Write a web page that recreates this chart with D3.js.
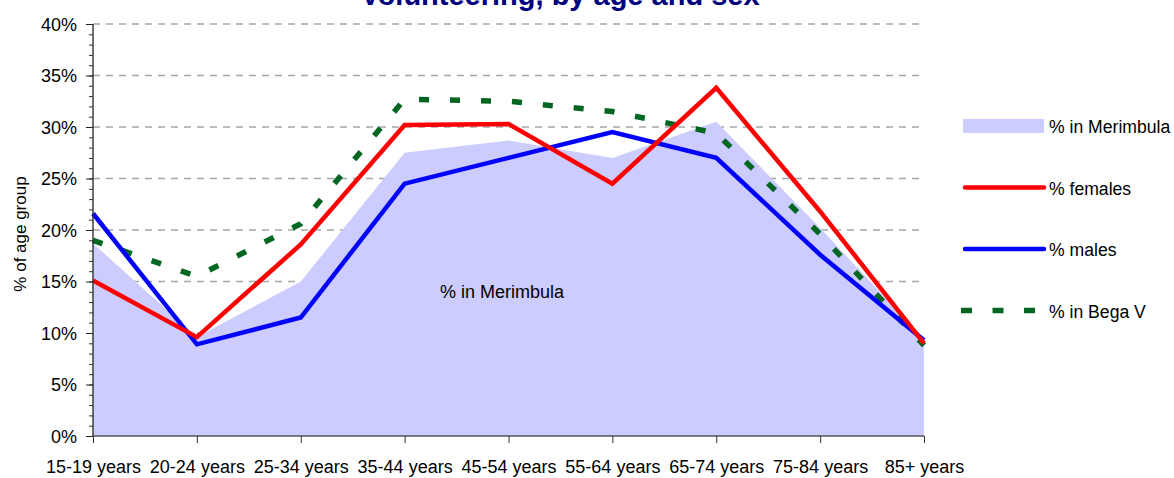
<!DOCTYPE html>
<html>
<head>
<meta charset="utf-8">
<script src="https://cdn.jsdelivr.net/npm/d3@7"></script>
<style>
body{margin:0;background:#fff;}
svg{display:block;font-family:"Liberation Sans",Arial,sans-serif;}
.t_tick{font-size:18px;fill:#000;}
.t_leg{font-size:17.6px;fill:#000;}
</style>
</head>
<body>
<svg width="1174" height="478"></svg>
<script>
/* ----------------------------------------------------------
data
---------------------------------------------------------- */
var ageGroups = ["15-19 years","20-24 years","25-34 years","35-44 years","45-54 years","55-64 years","65-74 years","75-84 years","85+ years"];
var merimbula = [18.7, 9.6, 15.0, 27.5, 28.7, 27.0, 30.5, 20.2, 9.4];
var females   = [15.1, 9.6, 18.6, 30.2, 30.3, 24.5, 33.8, 21.8, 9.0];
var males     = [21.6, 8.9, 11.5, 24.5, 27.0, 29.5, 27.0, 17.6, 9.3];
var begaV     = [19.0, 15.5, 20.6, 32.7, 32.5, 31.5, 29.4, 19.6, 8.8];
var yTicks = [0,5,10,15,20,25,30,35,40];

var svg = d3.select("svg");

/* ----------------------------------------------------------
scale / axis
---------------------------------------------------------- */
var x = d3.scalePoint().domain(ageGroups).range([93, 924]);
var y = d3.scaleLinear().domain([0, 40]).range([436, 24]);

// grid
svg.append("g").selectAll("line").data(yTicks.slice(1)).enter().append("line")
	.attr("x1", 93).attr("x2", 924)
	.attr("y1", function(d){return y(d);}).attr("y2", function(d){return y(d);})
	.style("stroke", "#a6a6a6").style("stroke-width", 1.3).style("stroke-dasharray", "7,6");

// area
var area = d3.area()
	.x(function(d,i){return x(ageGroups[i]);})
	.y0(y(0))
	.y1(function(d){return y(d);});
svg.append("path").attr("d", area(merimbula)).style("fill", "#ccccff");

svg.append("text").attr("x", 502).attr("y", 298).attr("text-anchor","middle").attr("class","t_tick").text("% in Merimbula");

// lines
function lineOf(){
	return d3.line().x(function(d,i){return x(ageGroups[i]);}).y(function(d){return y(d);});
}
svg.append("path").attr("d", lineOf()(begaV))
	.style("fill","none").style("stroke","#006622").style("stroke-width",5.5).style("stroke-dasharray","10,21");
svg.append("path").attr("d", lineOf()(males))
	.style("fill","none").style("stroke","#0000ff").style("stroke-width",4.5).style("stroke-linejoin","miter");
svg.append("path").attr("d", lineOf()(females))
	.style("fill","none").style("stroke","#ff0000").style("stroke-width",4.5).style("stroke-linejoin","miter");

// y axis
var yAxis = d3.axisLeft(y).tickValues(yTicks).tickSize(7).tickPadding(9).tickFormat(function(d){return d+"%";});
var yMinor = d3.axisLeft(y).ticks(40).tickSize(4).tickFormat("");
var gy = svg.append("g").attr("transform","translate(93,0)").call(yMinor);
gy.select(".domain").remove();
gy.selectAll("line").style("stroke","#333");
var gy2 = svg.append("g").attr("transform","translate(93,0)").call(yAxis);
gy2.select(".domain").attr("d","M0,24V436").style("stroke","#222").style("stroke-width",1.3);
gy2.selectAll("line").style("stroke","#222");
gy2.selectAll("text").attr("class","t_tick").style("font-size",null).style("font-family",null).attr("dy","0.36em");

// x axis
var xAxis = d3.axisBottom(x).tickSize(7).tickPadding(17);
var gx = svg.append("g").attr("transform","translate(0,436)").call(xAxis);
gx.select(".domain").attr("d","M93,0H924").style("stroke","#555").style("stroke-width",1.5);
gx.selectAll("line").style("stroke","#333");
gx.selectAll("text").attr("class","t_tick").style("font-size",null).style("font-family",null);

// title / label
svg.append("text").attr("x", 560).attr("y", 5).attr("text-anchor","middle")
	.style("font-size","29px").style("font-weight","bold").style("fill","#000080")
	.text("Volunteering, by age and sex");
svg.append("text").attr("transform","translate(26,234) rotate(-90)").attr("text-anchor","middle")
	.style("font-size","17px").text("% of age group");

/* ----------------------------------------------------------
legend
---------------------------------------------------------- */
var legendVals = ["% in Merimbula","% females","% males","% in Bega V"];
var gLegend = svg.append("g").attr("transform","translate(963,126)");
var legs = gLegend.selectAll(".legends").data(legendVals).enter().append("g")
	.attr("class","legends")
	.attr("transform", function(d,i){return "translate(0," + i*61.5 + ")";});

legs.filter(function(d,i){return i==0;}).append("rect")
	.attr("x",0).attr("y",-7).attr("width",81).attr("height",14).style("fill","#ccccff");
legs.filter(function(d,i){return i==1 || i==2;}).append("line")
	.attr("x1",2).attr("x2",81).attr("y1",0).attr("y2",0)
	.style("stroke", function(d,i){return i==0 ? "#ff0000" : "#0000ff";})
	.style("stroke-width",4.5).style("stroke-linecap","round");
legs.filter(function(d,i){return i==3;}).append("line")
	.attr("x1",-2).attr("x2",81).attr("y1",0).attr("y2",0)
	.style("stroke","#006622").style("stroke-width",5.5).style("stroke-dasharray","11,20.5");
legs.append("text").attr("x",86).attr("y",7).attr("class","t_leg").text(function(d){return d;});
</script>
</body>
</html>
